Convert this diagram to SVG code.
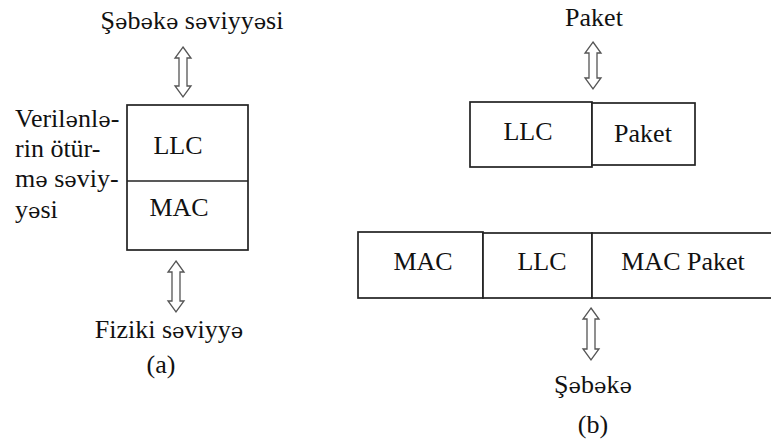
<svg xmlns="http://www.w3.org/2000/svg" width="771" height="445" viewBox="0 0 771 445">
  <style>
    text { font-family: "Liberation Serif", "Times New Roman", serif; font-size: 26px; fill: #111; }
    .mid { text-anchor: middle; }
    /* schwa is missing from Liberation Serif, take it from DejaVu Serif */
    .e { font-family: "DejaVu Serif", serif; font-size: 21px; }
    .box { fill: #fff; stroke: #222; stroke-width: 1.7; }
    .arrow { fill: #fff; stroke: #555; stroke-width: 1.3; stroke-linejoin: miter; }
  </style>
  <rect width="771" height="445" fill="#fff"/>

  <!-- (a) layer stack -->
  <g id="label-network-level">
    <text class="mid" x="192" y="29">Ş<tspan class="e">ə</tspan>b<tspan class="e">ə</tspan>k<tspan class="e">ə</tspan> s<tspan class="e">ə</tspan>viyy<tspan class="e">ə</tspan>si</text>
  </g>
  <g id="label-datalink">
    <text x="15" y="127">Veril<tspan class="e">ə</tspan>nl<tspan class="e">ə</tspan>-</text>
    <text x="15" y="157">rin ötür-</text>
    <text x="15" y="187">m<tspan class="e">ə</tspan> s<tspan class="e">ə</tspan>viy-</text>
    <text x="15" y="218">y<tspan class="e">ə</tspan>si</text>
  </g>
  <g id="stack-a">
    <rect class="box" x="127" y="105" width="121" height="145"/>
    <line x1="127" y1="181" x2="248" y2="181" stroke="#222" stroke-width="1.7"/>
    <text class="mid" x="178" y="154">LLC</text>
    <text class="mid" x="179" y="216">MAC</text>
  </g>
  <g id="label-physical-level">
    <text class="mid" x="169" y="338">Fiziki s<tspan class="e">ə</tspan>viyy<tspan class="e">ə</tspan></text>
  </g>
  <g id="caption-a">
    <text class="mid" x="161" y="373">(a)</text>
  </g>

  <!-- (b) frame encapsulation -->
  <g id="label-packet-top">
    <text class="mid" x="594" y="26">Paket</text>
  </g>
  <g id="llc-frame">
    <rect class="box" x="470" y="102" width="122" height="65"/>
    <text class="mid" x="528" y="140">LLC</text>
    <rect class="box" x="592" y="103" width="103" height="62"/>
    <text class="mid" x="643" y="142">Paket</text>
  </g>
  <g id="mac-frame">
    <rect class="box" x="358" y="232" width="125" height="66"/>
    <text class="mid" x="423" y="270">MAC</text>
    <rect class="box" x="483" y="233" width="109" height="65"/>
    <text class="mid" x="542" y="270">LLC</text>
    <rect class="box" x="592" y="233" width="190" height="65"/>
    <text class="mid" x="683" y="270">MAC Paket</text>
  </g>
  <g id="label-network">
    <text class="mid" x="593" y="393">Ş<tspan class="e">ə</tspan>b<tspan class="e">ə</tspan>k<tspan class="e">ə</tspan></text>
  </g>
  <g id="caption-b">
    <text class="mid" x="593" y="433">(b)</text>
  </g>

  <!-- hollow double-headed arrows between layers -->
  <g id="connectors">
    <polygon class="arrow" points="183,47 191,58 187,58 187,86 191,86 183,97 175,86 179,86 179,58 175,58"/>
    <polygon class="arrow" points="176,261 184,272 180,272 180,301 184,301 176,312 168,301 172,301 172,272 168,272"/>
    <polygon class="arrow" points="593,42 601,53 597,53 597,78 601,78 593,89 585,78 589,78 589,53 585,53"/>
    <polygon class="arrow" points="591,308 599,319 595,319 595,349 599,349 591,360 583,349 587,349 587,319 583,319"/>
  </g>
</svg>
